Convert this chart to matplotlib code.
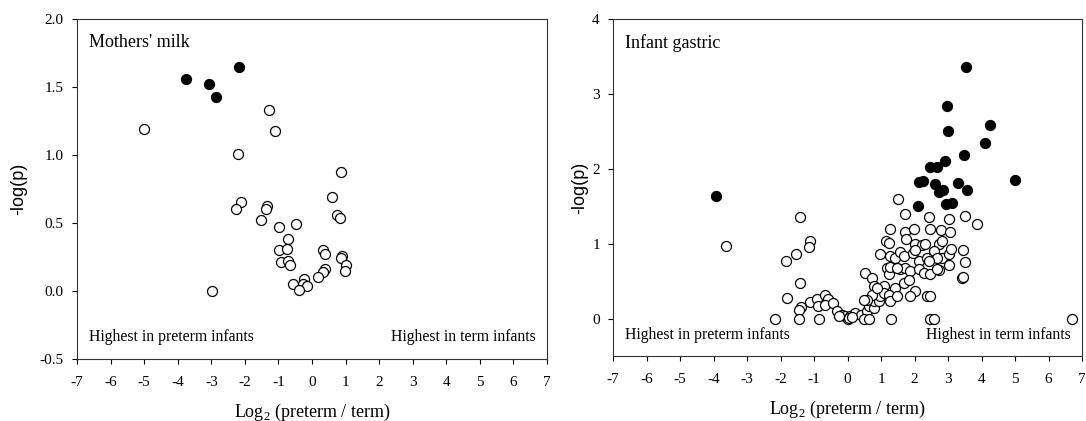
import matplotlib
matplotlib.use("Agg")
import matplotlib.pyplot as plt

plt.rcParams['font.family'] = ['Liberation Serif', 'DejaVu Serif']
plt.rcParams['mathtext.fontset'] = 'custom'
plt.rcParams['mathtext.rm'] = 'Liberation Serif'

# ------------------- Mothers' milk -------------------
milk_sig_x = [-3.75, -3.07, -2.86, -2.17]
milk_sig_y = [1.56, 1.52, 1.43, 1.645]

milk_ns_x = [-5.0, -1.28, -1.11, -2.21, 0.86, 0.59, -2.12, -2.25, -1.35, -1.375,
             -1.52, -0.99, -0.48, 0.75, 0.82, -0.71, -0.996, -0.75, -0.91, -0.72,
             -0.67, 0.33, 0.40, 0.88, 0.86, 1.01, 0.97, 0.38, 0.34, 0.19,
             -0.25, -0.27, -0.58, -0.14, -0.39, -2.98]
milk_ns_y = [1.19, 1.33, 1.18, 1.01, 0.877, 0.69, 0.652, 0.603, 0.627, 0.60,
             0.52, 0.47, 0.49, 0.56, 0.54, 0.38, 0.30, 0.31, 0.21, 0.22,
             0.19, 0.30, 0.27, 0.26, 0.24, 0.19, 0.15, 0.16, 0.14, 0.10,
             0.09, 0.05, 0.05, 0.04, 0.01, 0.0]

# ------------------- Infant gastric -------------------
gas_sig_x = [3.54, 2.96, 3.0, 4.26, 4.11, 3.49, 2.90, 2.47, 2.68, 5.01,
             2.14, 2.24, 2.61, 3.30, 3.56, 2.74, 2.84, -3.92, 2.10, 2.93, 3.11]
gas_sig_y = [3.36, 2.84, 2.51, 2.58, 2.34, 2.19, 2.11, 2.02, 2.02, 1.85,
             1.83, 1.84, 1.79, 1.81, 1.71, 1.69, 1.71, 1.64, 1.50, 1.53, 1.54]

gas_ns_x = [1.52, 1.72, 2.42, 3.50, 3.86, 3.02, -1.41, 1.27, 1.72, 1.97,
            2.47, 2.79, 3.05, 1.75, 1.15, 1.23, -1.12, -1.15, -3.63, -1.55,
            -1.83, 0.98, 1.27, 1.42, 1.57, 1.67, 2.02, 2.22, 2.32, 2.72,
            2.82, 1.95, 2.12, 2.37, 2.57, 2.82, 3.02, 3.10, 3.44, 3.52,
            3.02, 2.72, 3.41, 3.46, 1.18, 1.23, 1.57, 1.72, 1.87, 2.12,
            2.27, 2.47, 2.67, 0.53, 0.73, 0.78, 1.08, 1.42, 1.67, 1.82,
            2.02, 1.87, 2.37, 2.47, -1.41, -1.81, -1.39, -1.46, -1.12, -0.92,
            -0.67, -0.57, -0.87, -0.67, -0.42, -0.32, -0.17, -0.07, 0.08, 0.23,
            0.40, 0.58, 0.63, 0.78, 0.78, 0.93, 0.98, 1.08, 1.23, 1.27,
            1.47, 0.73, 0.58, 0.48, 0.88, -2.18, -1.46, -0.84, 0.0, 0.05,
            0.48, 0.63, 1.30, 2.45, 2.59, 6.70, 0.13, -0.27, 1.27, 1.47,
            2.67, 2.02, 2.42]
gas_ns_y = [1.60, 1.39, 1.35, 1.37, 1.26, 1.33, 1.35, 1.19, 1.15, 1.19,
            1.20, 1.18, 1.16, 1.06, 1.04, 1.01, 1.03, 0.96, 0.97, 0.86,
            0.77, 0.86, 0.83, 0.81, 0.89, 0.83, 0.99, 0.98, 1.00, 0.99,
            1.04, 0.87, 0.77, 0.81, 0.90, 0.81, 0.86, 0.93, 0.92, 0.75,
            0.71, 0.65, 0.54, 0.55, 0.68, 0.59, 0.66, 0.68, 0.63, 0.66,
            0.61, 0.59, 0.66, 0.61, 0.54, 0.43, 0.43, 0.41, 0.48, 0.52,
            0.37, 0.30, 0.30, 0.30, 0.48, 0.28, 0.16, 0.11, 0.22, 0.26,
            0.31, 0.26, 0.17, 0.18, 0.21, 0.10, 0.05, 0.03, 0.03, 0.08,
            0.05, 0.10, 0.17, 0.14, 0.23, 0.23, 0.30, 0.34, 0.32, 0.23,
            0.30, 0.32, 0.25, 0.25, 0.41, 0.0, 0.0, 0.0, 0.0, 0.01,
            0.0, 0.0, 0.0, 0.0, 0.0, 0.0, 0.02, 0.04, 0.69, 0.68,
            0.81, 0.92, 0.77]

xticks = list(range(-7, 8))

fig = plt.figure(figsize=(10.86, 4.21), dpi=100)
ax1 = fig.add_axes([0.0709, 0.1473, 0.4328, 0.8076])
ax2 = fig.add_axes([0.5645, 0.1544, 0.4319, 0.8005])

ms = 7.2
for ax, nx, ny, sx, sy in [(ax1, milk_ns_x, milk_ns_y, milk_sig_x, milk_sig_y),
                           (ax2, gas_ns_x, gas_ns_y, gas_sig_x, gas_sig_y)]:
    ax.plot(nx, ny, 'o', ms=ms, mfc='white', mec='black', mew=0.9, ls='none')
    ax.plot(sx, sy, 'o', ms=ms, mfc='black', mec='black', mew=0.9, ls='none')
    ax.set_xlim(-7, 7)
    ax.set_xticks(xticks)
    ax.set_xticklabels([str(t) for t in xticks])
    ax.tick_params(direction='out', length=3.5, width=0.8, labelsize=11)
    ax.tick_params(axis='x', pad=9)
    ax.tick_params(axis='y', pad=6)
    for s in ax.spines.values():
        s.set_linewidth(0.8)
        s.set_color('#333333')
    ax.set_xlabel('Log$_2$ (preterm / term)', fontsize=13, labelpad=9)
    ax.text(0.025, 0.04, 'Highest in preterm infants', transform=ax.transAxes,
            fontsize=11.3, ha='left', va='bottom')
    ax.text(0.975, 0.04, 'Highest in term infants', transform=ax.transAxes,
            fontsize=11.3, ha='right', va='bottom')

ax1.set_ylabel('-log(p)', fontsize=13, labelpad=9, family='Liberation Sans')
ax2.set_ylabel('-log(p)', fontsize=13, labelpad=3, family='Liberation Sans')

ax1.set_ylim(-0.5, 2.0)
ax1.set_yticks([-0.5, 0.0, 0.5, 1.0, 1.5, 2.0])
ax1.set_yticklabels(['-0.5', '0.0', '0.5', '1.0', '1.5', '2.0'])
ax1.text(0.025, 0.93, "Mothers' milk", transform=ax1.transAxes, fontsize=13,
         ha='left', va='center')

ax2.set_ylim(-0.5, 4)
ax2.set_yticks([0, 1, 2, 3, 4])
ax2.text(0.025, 0.93, "Infant gastric", transform=ax2.transAxes, fontsize=13,
         ha='left', va='center')

fig.savefig('out.png', dpi=100)
